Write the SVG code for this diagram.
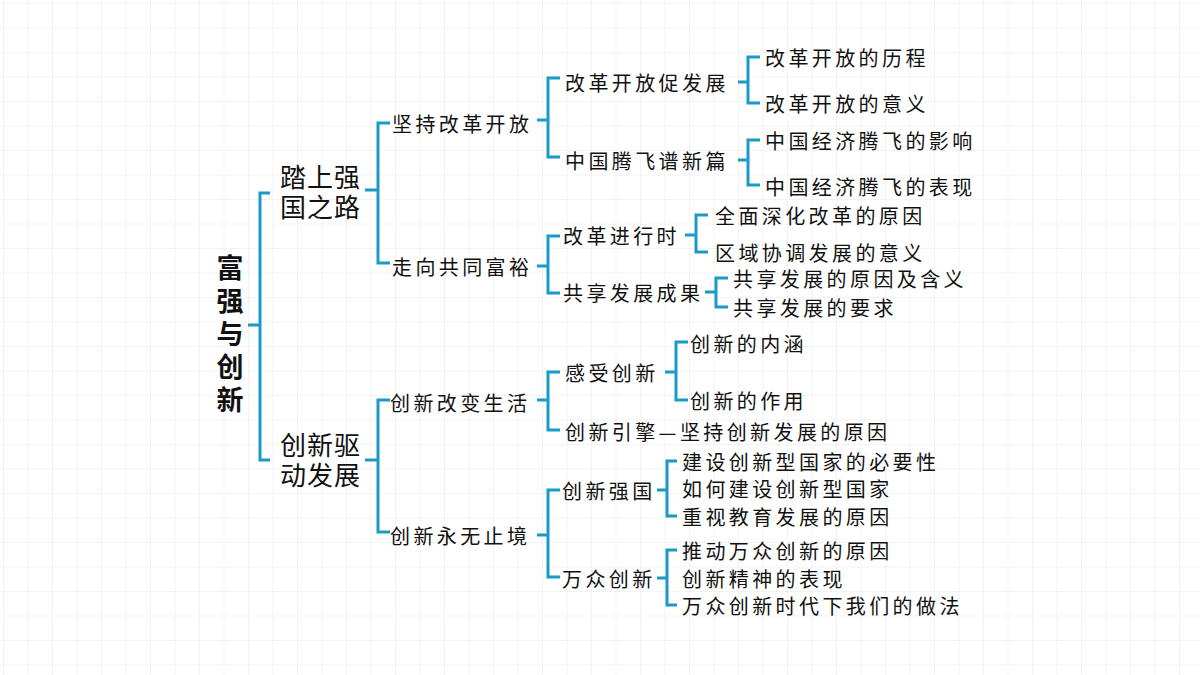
<svg xmlns="http://www.w3.org/2000/svg" width="1200" height="675" viewBox="0 0 1200 675">
<defs>
<pattern id="grid" width="24.5" height="24.5" patternUnits="userSpaceOnUse" x="4" y="4">
<path d="M24.5 0V24.5H0" fill="none" stroke="#e8e8e8" stroke-width="1"/>
</pattern>
<style>
text{font-family:"Noto Sans CJK SC","Noto Sans",sans-serif;fill:#111;dominant-baseline:central}
.t{font-size:20px;letter-spacing:3.4px}
.m{font-size:26px;letter-spacing:1px}
.r{font-size:27px;font-weight:bold}
.c path{fill:none;stroke:#1a9ac6;stroke-width:3}
</style>
</defs>
<rect width="1200" height="675" fill="#fff"/>
<rect width="1200" height="675" fill="url(#grid)"/>
<g class="c" id="connectors">
<path d="M248 325H260M270 193H260V460H270"/>
<path d="M365 190H378M390 123H378V263H390"/>
<path d="M365 460H378M390 400H378V532H390"/>
<path d="M537 120H548M560 78H548V157H560"/>
<path d="M738 82H748M760 57H748V103H760"/>
<path d="M738 160H748M760 140H748V185H760"/>
<path d="M537 266H548M560 236H548V293H560"/>
<path d="M685 235H696M708 215H696V252H708"/>
<path d="M705 292H716M728 278H716V307H728"/>
<path d="M537 400H548M560 372H548V430H560"/>
<path d="M665 372H676M688 342H676V400H688"/>
<path d="M537 535H548M560 490H548V577H560"/>
<path d="M657 490H667M677 461H667V516H677"/>
<path d="M657 578H667M677 550H667V605H677"/>
</g>
<g id="root"><text class="r" x="230" y="266" text-anchor="middle">富</text><text class="r" x="230" y="299" text-anchor="middle">强</text><text class="r" x="230" y="332" text-anchor="middle">与</text><text class="r" x="230" y="365" text-anchor="middle">创</text><text class="r" x="230" y="398" text-anchor="middle">新</text></g>
<g id="n1"><text class="m" x="280" y="175">踏上强</text><text class="m" x="280" y="205">国之路</text></g>
<g id="n2"><text class="m" x="280" y="443">创新驱</text><text class="m" x="280" y="473">动发展</text></g>
<g id="n11"><text class="t" x="392" y="123">坚持改革开放</text></g>
<g id="n12"><text class="t" x="392" y="266">走向共同富裕</text></g>
<g id="n21"><text class="t" x="390" y="402">创新改变生活</text></g>
<g id="n22"><text class="t" x="390" y="535">创新永无止境</text></g>
<g id="n111"><text class="t" x="565" y="82">改革开放促发展</text></g>
<g id="n112"><text class="t" x="565" y="160">中国腾飞谱新篇</text></g>
<g id="n121"><text class="t" x="563" y="235">改革进行时</text></g>
<g id="n122"><text class="t" x="563" y="292">共享发展成果</text></g>
<g id="n211"><text class="t" x="565" y="372">感受创新</text></g>
<g id="n212"><text class="t" x="565" y="431">创新引擎—坚持创新发展的原因</text></g>
<g id="n221"><text class="t" x="562" y="490">创新强国</text></g>
<g id="n222"><text class="t" x="562" y="578">万众创新</text></g>
<g id="leaves">
<text class="t" x="765" y="57">改革开放的历程</text>
<text class="t" x="765" y="103">改革开放的意义</text>
<text class="t" x="765" y="140">中国经济腾飞的影响</text>
<text class="t" x="765" y="186">中国经济腾飞的表现</text>
<text class="t" x="715" y="215">全面深化改革的原因</text>
<text class="t" x="715" y="252">区域协调发展的意义</text>
<text class="t" x="733" y="278">共享发展的原因及含义</text>
<text class="t" x="733" y="307">共享发展的要求</text>
<text class="t" x="690" y="343">创新的内涵</text>
<text class="t" x="690" y="400">创新的作用</text>
<text class="t" x="682" y="461">建设创新型国家的必要性</text>
<text class="t" x="682" y="488">如何建设创新型国家</text>
<text class="t" x="682" y="516">重视教育发展的原因</text>
<text class="t" x="682" y="550">推动万众创新的原因</text>
<text class="t" x="682" y="578">创新精神的表现</text>
<text class="t" x="682" y="605">万众创新时代下我们的做法</text>
</g>
</svg>
